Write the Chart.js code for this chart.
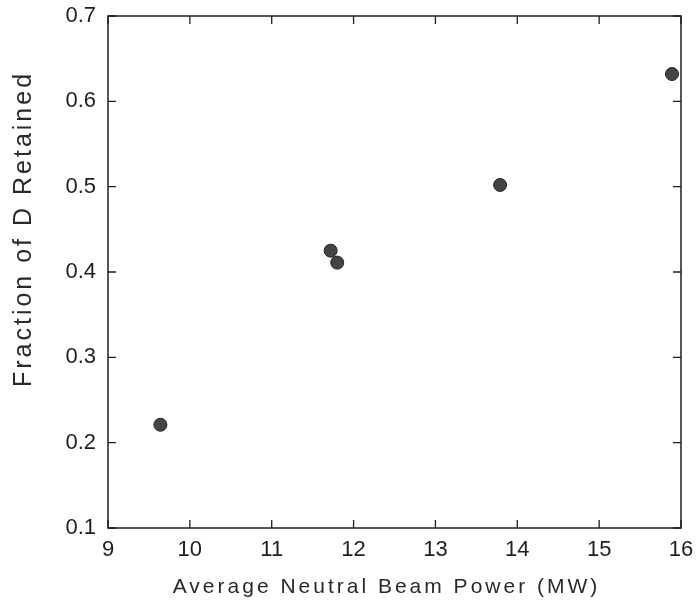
<!DOCTYPE html>
<html>
<head>
<meta charset="utf-8">
<script src="https://cdn.jsdelivr.net/npm/chart.js@4/dist/chart.umd.min.js"></script>
<style>
  html, body { margin: 0; padding: 0; background: #fff; }
  #wrap { width: 699px; height: 609px; position: relative; }
</style>
</head>
<body>
<div id="wrap"><canvas id="chart"></canvas></div>
<script>
// Data
const beamPower = [9.64, 11.72, 11.80, 13.79, 15.89];       // MW
const fractionRetained = [0.221, 0.425, 0.411, 0.502, 0.632];
const xTicks = [9, 10, 11, 12, 13, 14, 15, 16];
const yTicks = [0.1, 0.2, 0.3, 0.4, 0.5, 0.6, 0.7];

const INK = '#1e1e1e';
const FONT = '"Liberation Sans", Arial, sans-serif';

// Frame around the plot area plus inward ticks on all four sides
const framePlugin = {
    id: 'frame',
    afterLayout(chart) {
        // loosen the letter spacing of the axis titles only
        const shifts = { x: [-8, 0], y: [0, -43] };
        ['x', 'y'].forEach(id => {
            const scale = chart.scales[id];
            if (!scale || scale._titlePatched) return;
            const orig = scale.drawTitle.bind(scale);
            scale.drawTitle = function() {
                const ctx = this.ctx;
                ctx.save();
                ctx.letterSpacing = '3px';
                ctx.translate(shifts[id][0], shifts[id][1]);
                orig();
                ctx.restore();
            };
            scale._titlePatched = true;
        });
    },
    afterDraw(chart) {
        const { ctx, chartArea: a, scales } = chart;
        const len = 8;
        ctx.save();
        ctx.strokeStyle = INK;
        ctx.lineWidth = 1.5;
        ctx.strokeRect(a.left, a.top, a.right - a.left, a.bottom - a.top);
        ctx.lineWidth = 1.3;
        ctx.beginPath();
        xTicks.forEach(v => {
            const px = scales.x.getPixelForValue(v);
            ctx.moveTo(px, a.bottom); ctx.lineTo(px, a.bottom - len);
            ctx.moveTo(px, a.top); ctx.lineTo(px, a.top + len);
        });
        yTicks.forEach(v => {
            const py = scales.y.getPixelForValue(v);
            ctx.moveTo(a.left, py); ctx.lineTo(a.left + len, py);
            ctx.moveTo(a.right, py); ctx.lineTo(a.right - len, py);
        });
        ctx.stroke();
        ctx.restore();
    }
};

const points = beamPower.map((x, i) => ({ x: x, y: fractionRetained[i] }));

new Chart(document.getElementById('chart'), {
    type: 'scatter',
    data: {
        datasets: [{
            data: points,
            backgroundColor: '#444',
            borderColor: '#222',
            borderWidth: 1,
            pointRadius: 6.5,
            pointHoverRadius: 6.5
        }]
    },
    options: {
        responsive: true,
        maintainAspectRatio: false,
        animation: false,
        events: [],
        layout: { padding: { left: 0, top: 16, right: 18, bottom: 0 } },
        plugins: {
            legend: { display: false },
            tooltip: { enabled: false }
        },
        scales: {
            x: {
                type: 'linear',
                min: 9,
                max: 16,
                afterFit(scale) {
                    scale.height = 81;
                    scale.paddingLeft = 0;
                    scale.paddingRight = 0;
                },
                afterBuildTicks(scale) { scale.ticks = xTicks.map(v => ({ value: v })); },
                grid: { display: false, drawTicks: false },
                border: { display: false },
                ticks: {
                    padding: 9,
                    color: INK,
                    font: { family: FONT, size: 22 },
                    callback: v => String(v)
                },
                title: {
                    display: true,
                    text: 'Average Neutral Beam Power (MW)',
                    color: '#2a2a2a',
                    padding: { top: 0, bottom: 9 },
                    font: { family: FONT, size: 21 }
                }
            },
            y: {
                type: 'linear',
                min: 0.1,
                max: 0.7,
                afterFit(scale) {
                    scale.width = 108;
                    scale.paddingTop = 0;
                    scale.paddingBottom = 0;
                },
                afterBuildTicks(scale) { scale.ticks = yTicks.map(v => ({ value: v })); },
                grid: { display: false, drawTicks: false },
                border: { display: false },
                ticks: {
                    padding: 12,
                    color: INK,
                    font: { family: FONT, size: 22 },
                    callback: v => Number(v).toFixed(1)
                },
                title: {
                    display: true,
                    text: 'Fraction of D Retained',
                    color: '#2a2a2a',
                    padding: { top: 9, bottom: 0 },
                    font: { family: FONT, size: 25 }
                }
            }
        }
    },
    plugins: [framePlugin]
});
</script>
</body>
</html>
